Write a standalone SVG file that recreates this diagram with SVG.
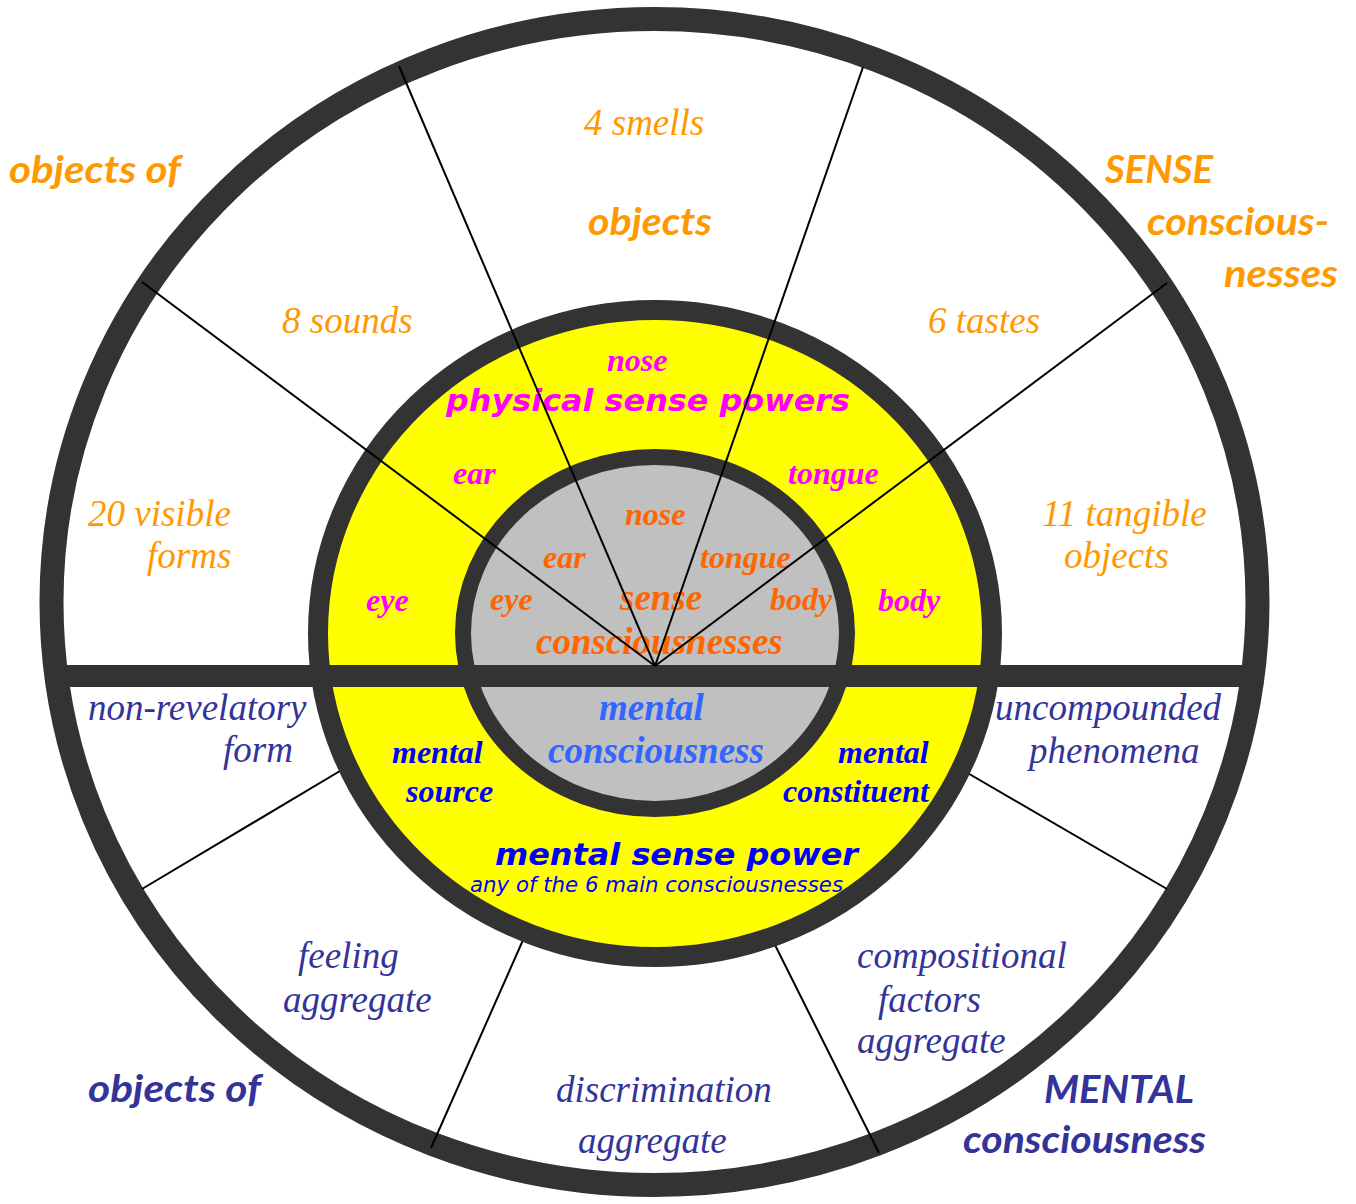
<svg xmlns="http://www.w3.org/2000/svg" width="1356" height="1204" viewBox="0 0 1356 1204">
<defs>
<style>
.ring{fill:none;stroke:#333333}
.spoke{stroke:#000000;stroke-width:2;fill:none}
.ol{font-family:"Liberation Serif","Times New Roman",serif;font-style:italic;font-size:37px;fill:#ff9900}
.il{font-family:"Liberation Serif","Times New Roman",serif;font-style:italic;font-size:37px;fill:#333399}
.bi{font-family:"Liberation Serif","Times New Roman",serif;font-style:italic;font-weight:bold;font-size:32px}
.bg{font-family:"Liberation Serif","Times New Roman",serif;font-style:italic;font-weight:bold;font-size:37px}
.big{font-family:Lato,"Liberation Sans",sans-serif;font-style:italic;font-weight:bold;font-size:38px}
.vb{font-family:"DejaVu Sans",Verdana,sans-serif;font-style:italic;font-weight:bold;font-size:31px}
.vr{font-family:"DejaVu Sans",Verdana,sans-serif;font-style:italic;font-size:21px}
.mag{fill:#ff00ff}.dor{fill:#ff6600}.blu{fill:#0000ff}.lbl{fill:#3366ff}.org{fill:#ff9900}.ind{fill:#333399}
</style>
</defs>
<rect x="0" y="0" width="1356" height="1204" fill="#ffffff"/>

<g id="outer-wheel">
<ellipse cx="654.5" cy="602" rx="603" ry="583" fill="#ffffff" class="ring" style="fill:#ffffff" stroke-width="24"/>
</g>

<g id="connectors-lower">
<line class="spoke" x1="350" y1="765" x2="142" y2="889"/>
<line class="spoke" x1="527" y1="931" x2="431" y2="1148"/>
<line class="spoke" x1="768" y1="931" x2="879" y2="1153"/>
<line class="spoke" x1="959" y1="768" x2="1167" y2="889"/>
</g>

<g id="sense-powers">
<ellipse cx="655" cy="633.5" rx="337" ry="323.5" fill="#ffff00" stroke="#333333" stroke-width="20"/>
</g>

<g id="consciousnesses">
<ellipse cx="655" cy="633" rx="192" ry="176" fill="#c0c0c0" stroke="#333333" stroke-width="16"/>
</g>

<g id="divider">
<line x1="55" y1="676" x2="1253" y2="676" stroke="#333333" stroke-width="22"/>
</g>

<g id="outer-labels">
<text class="big org" x="9" y="183" textLength="172" lengthAdjust="spacingAndGlyphs">objects of</text>
<text class="big org" x="588" y="235" textLength="124" lengthAdjust="spacingAndGlyphs">objects</text>
<text class="big org" x="1105" y="183" textLength="108" lengthAdjust="spacingAndGlyphs">SENSE</text>
<text class="big org" x="1147" y="235" textLength="182" lengthAdjust="spacingAndGlyphs">conscious-</text>
<text class="big org" x="1224" y="287" textLength="114" lengthAdjust="spacingAndGlyphs">nesses</text>
<text class="big ind" x="88" y="1102" textLength="173" lengthAdjust="spacingAndGlyphs">objects of</text>
<text class="big ind" x="1044" y="1103" textLength="150" lengthAdjust="spacingAndGlyphs">MENTAL</text>
<text class="big ind" x="963" y="1153" textLength="243" lengthAdjust="spacingAndGlyphs">consciousness</text>
</g>

<g id="sense-objects">
<text class="ol" x="584" y="135">4 smells</text>
<text class="ol" x="282" y="333">8 sounds</text>
<text class="ol" x="928" y="333">6 tastes</text>
<text class="ol" x="88" y="526">20 visible</text>
<text class="ol" x="147" y="568">forms</text>
<text class="ol" x="1042" y="526">11 tangible</text>
<text class="ol" x="1064" y="568">objects</text>
</g>

<g id="mental-objects">
<text class="il" x="88" y="720">non-revelatory</text>
<text class="il" x="223" y="762">form</text>
<text class="il" x="995" y="720">uncompounded</text>
<text class="il" x="1029" y="763">phenomena</text>
<text class="il" x="298" y="968">feeling</text>
<text class="il" x="283" y="1012">aggregate</text>
<text class="il" x="556" y="1102">discrimination</text>
<text class="il" x="578" y="1153">aggregate</text>
<text class="il" x="857" y="968">compositional</text>
<text class="il" x="878" y="1012">factors</text>
<text class="il" x="857" y="1053">aggregate</text>
</g>

<g id="physical-sense-powers">
<text class="vb mag" x="446" y="411" textLength="404" lengthAdjust="spacingAndGlyphs">physical sense powers</text>
<text class="bi mag" x="607" y="371">nose</text>
<text class="bi mag" x="453" y="484">ear</text>
<text class="bi mag" x="788" y="484">tongue</text>
<text class="bi mag" x="366" y="611">eye</text>
<text class="bi mag" x="878" y="611">body</text>
</g>

<g id="sense-consciousnesses">
<text class="bi dor" x="625" y="525">nose</text>
<text class="bi dor" x="543" y="568">ear</text>
<text class="bi dor" x="700" y="568">tongue</text>
<text class="bi dor" x="490" y="610">eye</text>
<text class="bi dor" x="770" y="610">body</text>
<text class="bg dor" x="620" y="610">sense</text>
<text class="bg dor" x="536" y="654">consciousnesses</text>
</g>

<g id="mental-consciousness">
<text class="bg lbl" x="599" y="720">mental</text>
<text class="bg lbl" x="548" y="763">consciousness</text>
</g>

<g id="mental-sense-power">
<text class="bi blu" x="392" y="763">mental</text>
<text class="bi blu" x="406" y="802">source</text>
<text class="bi blu" x="838" y="763">mental</text>
<text class="bi blu" x="783" y="802">constituent</text>
<text class="vb blu" x="495" y="865" textLength="363" lengthAdjust="spacingAndGlyphs">mental sense power</text>
<text class="vr blu" x="470" y="892" textLength="373" lengthAdjust="spacingAndGlyphs">any of the 6 main consciousnesses</text>
</g>

<g id="connectors">
<line class="spoke" x1="655" y1="666" x2="399" y2="66"/>
<line class="spoke" x1="655" y1="666" x2="863" y2="67"/>
<line class="spoke" x1="655" y1="666" x2="142" y2="282"/>
<line class="spoke" x1="655" y1="666" x2="1167" y2="283"/>
</g>
</svg>
